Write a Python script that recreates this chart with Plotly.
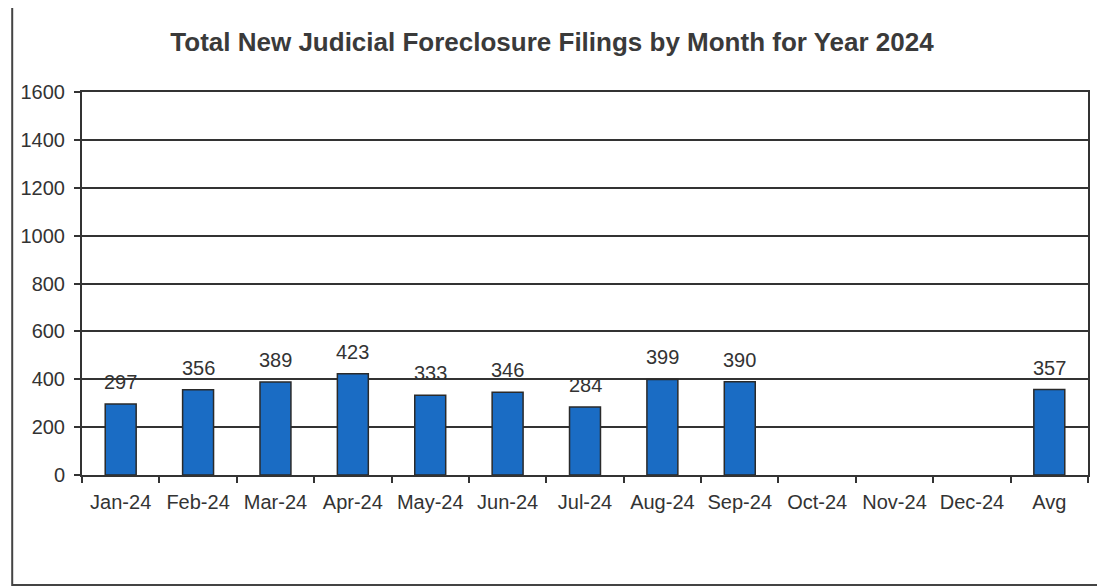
import plotly.graph_objects as go

categories = ["Jan-24", "Feb-24", "Mar-24", "Apr-24", "May-24", "Jun-24", "Jul-24",
              "Aug-24", "Sep-24", "Oct-24", "Nov-24", "Dec-24", "Avg"]
filings = [297, 356, 389, 423, 333, 346, 284, 399, 390, None, None, None, 357]
y_ticks = [0, 200, 400, 600, 800, 1000, 1200, 1400, 1600]
title_text = "Total New Judicial Foreclosure Filings by Month for Year 2024"

FONT = "Liberation Sans, Arial, sans-serif"
DARK = "#333333"

# page body has an 8px margin; figure coordinates are page coordinates minus 8
OFF = 8
W, H = 1105 - OFF, 587 - OFF
L, R, T, B = 79 - OFF, 1088 - OFF, 92 - OFF, 475 - OFF
pw, ph = R - L, B - T


def px(x):
    return (x - L) / pw


def py(y):
    return (B - y) / ph


fig = go.Figure()
fig.add_trace(go.Bar(
    x=categories, y=filings,
    width=0.4,
    marker=dict(color="#1a6cc4", line=dict(color="#2a2a2a", width=1.5)),
    hoverinfo="x+y",
))

for c, v in zip(categories, filings):
    if v is None:
        continue
    fig.add_annotation(x=c, y=v, text=str(v), showarrow=False,
                       yanchor="bottom", yshift=9,
                       font=dict(family=FONT, size=20, color=DARK))

fig.add_shape(type="rect", xref="paper", yref="paper",
              x0=px(1), x1=px(1100 - OFF), y0=py(585 - OFF), y1=py(-4),
              line=dict(color="#444444", width=2), layer="below")

fig.update_layout(
    width=W, height=H,
    margin=dict(l=L, r=W - R, t=T, b=H - B),
    paper_bgcolor="white", plot_bgcolor="white",
    showlegend=False,
    font=dict(family=FONT, color=DARK),
    title=dict(text="<b>" + title_text + "</b>", x=(552 - OFF) / W, xanchor="center",
               xref="container",
               y=1 - (42 - OFF) / H, yanchor="middle",
               font=dict(family=FONT, size=26, color="#3a3a3a")),
    bargap=0.6,
)
fig.update_xaxes(
    type="category", categoryorder="array", categoryarray=categories,
    showline=True, mirror=True, linecolor=DARK, linewidth=2,
    ticks="outside", tickson="boundaries", ticklen=6, tickcolor=DARK, tickwidth=2,
    tickfont=dict(family=FONT, size=20, color=DARK),
    ticklabelstandoff=8,
    showgrid=False,
)
fig.update_yaxes(
    range=[0, 1600], tickvals=y_ticks,
    showline=True, mirror=True, linecolor=DARK, linewidth=2,
    ticks="outside", ticklen=6, tickcolor=DARK, tickwidth=2,
    showgrid=True, gridcolor=DARK, gridwidth=1.8,
    tickfont=dict(family=FONT, size=20, color=DARK),
    ticklabelstandoff=5,
    zeroline=False,
)

fig.write_html("out.html")
